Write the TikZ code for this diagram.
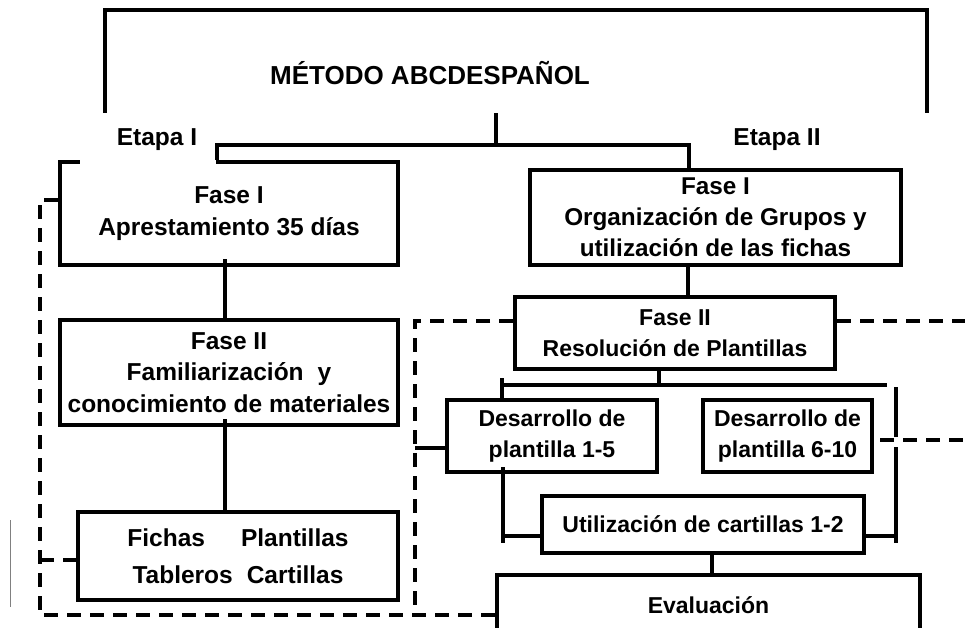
\documentclass[tikz,border=0pt]{standalone}
\usepackage{fontspec}
\setmainfont{Liberation Sans}

\begin{document}
\begin{tikzpicture}[x=1pt, y=-1pt,
    fasebox/.style={draw, line width=4pt, fill=white, align=center, inner sep=0pt,
        font=\bfseries\fontsize{24.5}{31.5}\selectfont},
    smallbox/.style={fasebox, font=\bfseries\fontsize{23}{31.5}\selectfont},
    etapa/.style={font=\bfseries\fontsize{24.5}{30}\selectfont},
    link/.style={line width=3.5pt},
    guide/.style={line width=3.5pt, dash pattern=on 14pt off 9pt}]

    % Fix the page size
    \useasboundingbox (0,0) rectangle (965,627);
    \clip (0,0) rectangle (965,627);

    % Draw the title frame
    \draw[line width=4pt] (105,113) -- (105,10) -- (927,10) -- (927,113);
    \node[font=\bfseries\fontsize{26}{30}\selectfont] (Title) at (430,73) {MÉTODO ABCDESPAÑOL};

    % Boxes of Etapa I
    \node[fasebox, minimum width=338pt, minimum height=103pt] (FaseIa) at (229,213.5)
        {Fase I\\Aprestamiento 35 días};
    \node[fasebox, minimum width=338pt, minimum height=105pt] (FaseIIa) at (229,372.5)
        {Fase II\\Familiarización\hspace{14pt}y\\conocimiento de materiales};
    \node[fasebox, minimum width=320pt, minimum height=88pt] (Material) at (238,556)
        {Fichas\hspace{36pt}Plantillas\\[5pt]Tableros\hspace{14pt}Cartillas};

    % Boxes of Etapa II
    \node[fasebox, font=\bfseries\fontsize{24.3}{31}\selectfont, minimum width=371pt, minimum height=95pt] (FaseIb) at (715.5,217.5)
        {Fase I\\Organización de Grupos y\\utilización de las fichas};
    \node[smallbox, minimum width=320pt, minimum height=72pt] (FaseIIb) at (675,333)
        {Fase II\\Resolución de Plantillas};
    \node[smallbox, minimum width=210pt, minimum height=72pt] (Des1) at (552,436)
        {Desarrollo de\\plantilla 1-5};
    \node[smallbox, minimum width=169pt, minimum height=72pt] (Des2) at (787.5,436)
        {Desarrollo de\\plantilla 6-10};
    \node[smallbox, minimum width=322pt, minimum height=57pt] (Util) at (703,524.5)
        {Utilización de cartillas 1-2};
    \node[smallbox, minimum width=423pt, minimum height=60pt] (Eval) at (708.5,605)
        {Evaluación};

    % Labels of the two stages
    \fill[white] (80,113) rectangle (216,165);
    \node[etapa] (EtapaI) at (157,140) {Etapa I};
    \node[etapa] (EtapaII) at (777,140) {Etapa II};

    % Define coordinates for the connectors
    \coordinate (Stem) at (496,113);
    \coordinate (SplitL) at (217,145);
    \coordinate (SplitR) at (689,145);
    \coordinate (SpineL) at (225,0);
    \coordinate (SpineR) at (688,0);
    \coordinate (BranchL) at (502,385);
    \coordinate (BranchM) at (659,385);
    \coordinate (BranchR) at (887,385);
    \coordinate (RailR) at (896,387);
    \coordinate (Gap) at (896,442);
    \coordinate (RailRb) at (896,543);
    \coordinate (RailL) at (503,543);
    \coordinate (Tie) at (0,536);
    \coordinate (Drop) at (712,0);

    % Solid connectors
    \draw[link] (Stem) -- (Stem |- SplitL);
    \draw[link] (SplitL |- FaseIa.north) -- (SplitL) -- (SplitR) -- (SplitR |- FaseIb.north);
    \draw[link] ([yshift=8pt]FaseIa.south -| SpineL) -- (FaseIIa.north -| SpineL);
    \draw[link] ([yshift=8pt]FaseIIa.south -| SpineL) -- (Material.north -| SpineL);
    \draw[link] (FaseIb.south -| SpineR) -- (FaseIIb.north -| SpineR);
    \draw[link] (FaseIIb.south -| BranchM) -- (BranchM);
    \draw[link] (BranchL) -- (BranchR);
    \draw[link] ([yshift=7pt]BranchL) -- (BranchL |- Des1.north);
    \draw[link] (RailR) -- ([yshift=5pt]Gap) ([yshift=-5pt]Gap) -- (RailRb);
    \draw[link] ([yshift=7pt]Des1.south -| RailL) -- (RailL);
    \draw[link] (Tie -| RailL) -- (Tie -| Util.west);
    \draw[link] (Tie -| Util.east) -- (Tie -| RailR);
    \draw[link] (Util.south -| Drop) -- (Eval.north -| Drop);

    % Dashed guides
    \coordinate (GuideA) at (40,200);
    \coordinate (GuideB) at (415,321);
    \coordinate (Floor) at (0,615);
    \coordinate (Mat) at (0,560);
    \coordinate (Hook) at (415,448);
    \coordinate (EdgeA) at (965,321);
    \coordinate (EdgeB) at (965,440);
    \draw[guide] (FaseIa.west |- GuideA) -- (GuideA) -- (GuideA |- Floor) -- (Eval.west |- Floor);
    \draw[guide] (GuideA |- Mat) -- (Material.west |- Mat);
    \draw[guide] (FaseIIb.west |- GuideB) -- (GuideB) -- (GuideB |- Floor);
    \draw[guide] (FaseIIb.east |- GuideB) -- (EdgeA);
    \draw[guide] ([xshift=6pt]Des2.east |- EdgeB) -- (EdgeB);
    \draw[link] (Hook) -- (Hook -| Des1.west);

    % Thin stray mark at the left edge
    \draw[gray, line width=0.8pt] (10,520) -- (10,607);
\end{tikzpicture}
\end{document}
